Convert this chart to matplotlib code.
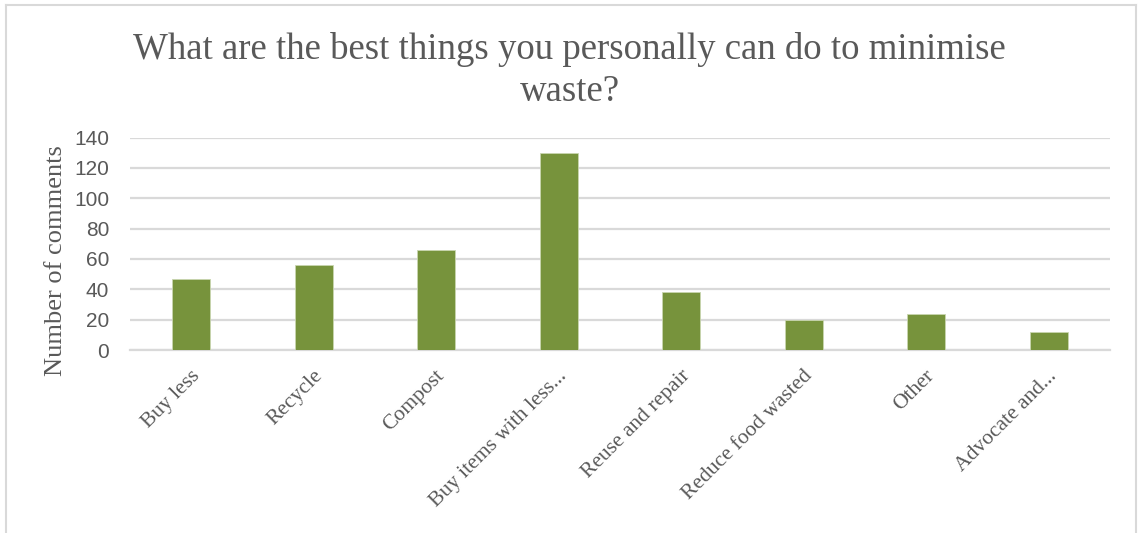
import matplotlib.pyplot as plt
from matplotlib.transforms import ScaledTranslation
from matplotlib.lines import Line2D

categories = ["Buy less", "Recycle", "Compost", "Buy items with less...",
              "Reuse and repair", "Reduce food wasted", "Other", "Advocate and..."]
comments = [47, 56, 66, 130, 38, 20, 24, 12]
yticks = [0, 20, 40, 60, 80, 100, 120, 140]

TXT = "#595959"
GRID = "#D9D9D9"
BAR = "#77933C"
SERIF = ["Liberation Serif", "DejaVu Serif"]
SANS = ["Liberation Sans", "DejaVu Sans"]

fig = plt.figure(figsize=(11.39, 5.33), dpi=100)
ax = fig.add_axes([130/1139, 1-350/533, 980/1139, (350-137.5)/533])

x = range(len(categories))
ax.bar(x, comments, width=0.31, color=BAR, edgecolor="#c9d6b0", linewidth=0.6, zorder=3)

ax.set_xlim(-0.5, len(categories)-0.5)
ax.set_ylim(0, 140)
ax.set_yticks(yticks)
ax.set_yticklabels([str(v) for v in yticks], family=SANS, fontsize=15, color=TXT)
ax.yaxis.grid(True, color=GRID, linewidth=1.6, zorder=0)
ax.tick_params(axis="both", length=0)
ax.tick_params(axis="y", pad=15)
for s in ["top", "right", "left"]:
    ax.spines[s].set_visible(False)
ax.spines["bottom"].set_color(GRID)
ax.spines["bottom"].set_linewidth(1.6)

ax.set_xticks(list(x))
ax.set_xticklabels(categories, rotation=45, ha="right", va="top",
                   rotation_mode="anchor", family=SERIF, fontsize=15.5, color=TXT)
ax.tick_params(axis="x", pad=12)
shift = ScaledTranslation(-1/100, 0, fig.dpi_scale_trans)
for lab in ax.get_xticklabels():
    lab.set_transform(lab.get_transform() + shift)

ax.set_ylabel("Number of comments", family=SERIF, fontsize=19, color=TXT)
ax.yaxis.set_label_coords(-0.064, 0.42)

fig.text(0.5, 1-32/533, "What are the best things you personally can do to minimise\nwaste?",
         ha="center", va="top", family=SERIF, fontsize=26.5, color=TXT, linespacing=1.28)

# chart border
bx0, bx1, by1 = 6/1139, 1136/1139, 1-5/533
for xs, ys in [([bx0, bx0], [0, by1]), ([bx0, bx1], [by1, by1]), ([bx1, bx1], [0, by1])]:
    fig.add_artist(Line2D(xs, ys, color=GRID, linewidth=1.5, transform=fig.transFigure))

fig.savefig("out.png", dpi=100)
